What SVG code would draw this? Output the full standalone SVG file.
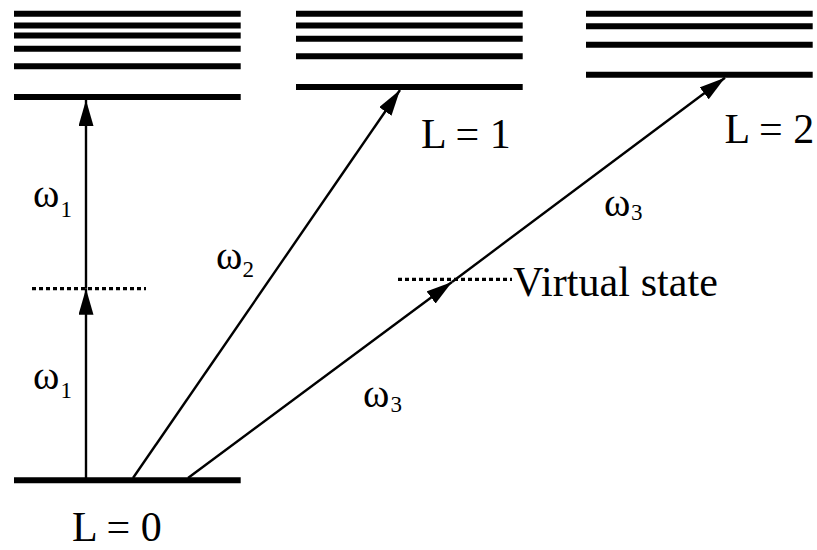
<svg xmlns="http://www.w3.org/2000/svg" width="817" height="550" viewBox="0 0 817 550">
<style>
.lvl{stroke:#000;stroke-width:6;fill:none}
.virt{stroke:#000;stroke-width:3.2;stroke-dasharray:4 3;fill:none}
.arr{stroke:#000;stroke-width:2.4;fill:none;marker-end:url(#ah)}
.lbl{font-family:"Liberation Serif","Times New Roman",serif;font-size:42px;fill:#000}
.om{font-family:"Liberation Serif","Times New Roman",serif;font-size:40px;fill:#000}
.sub{font-family:"Liberation Serif","Times New Roman",serif;font-size:23px;fill:#000}
</style>
<defs>
<marker id="ah" viewBox="0 0 26 15" refX="26" refY="7.5" markerWidth="26" markerHeight="15" markerUnits="userSpaceOnUse" orient="auto">
<path d="M0,0 L26,7.5 L0,15 z" fill="#000"/>
</marker>
</defs>
<rect width="817" height="550" fill="#fff"/>
<g id="levels-L0">
<line class="lvl" x1="14" y1="13.7" x2="240.7" y2="13.7"/>
<line class="lvl" x1="14" y1="25.5" x2="240.7" y2="25.5"/>
<line class="lvl" x1="14" y1="35.5" x2="240.7" y2="35.5"/>
<line class="lvl" x1="14" y1="48.7" x2="240.7" y2="48.7"/>
<line class="lvl" x1="14" y1="66.3" x2="240.7" y2="66.3"/>
<line class="lvl" x1="14" y1="97" x2="240.7" y2="97"/>
</g>
<g id="levels-L1">
<line class="lvl" x1="296" y1="13.7" x2="522.7" y2="13.7"/>
<line class="lvl" x1="296" y1="25.5" x2="522.7" y2="25.5"/>
<line class="lvl" x1="296" y1="38.7" x2="522.7" y2="38.7"/>
<line class="lvl" x1="296" y1="56.3" x2="522.7" y2="56.3"/>
<line class="lvl" x1="296" y1="87" x2="522.7" y2="87"/>
<text class="lbl" x="421" y="147.5">L = 1</text>
</g>
<g id="levels-L2">
<line class="lvl" x1="586" y1="13.7" x2="812.7" y2="13.7"/>
<line class="lvl" x1="586" y1="26.3" x2="812.7" y2="26.3"/>
<line class="lvl" x1="586" y1="44.7" x2="812.7" y2="44.7"/>
<line class="lvl" x1="586" y1="74.7" x2="812.7" y2="74.7"/>
<text class="lbl" x="724.5" y="143">L = 2</text>
</g>
<g id="ground-L0">
<line class="lvl" x1="14" y1="480.3" x2="240.7" y2="480.3"/>
<text class="lbl" x="72" y="541" font-size="41">L = 0</text>
</g>
<g id="virtual-1">
<line class="virt" x1="32" y1="288.7" x2="146" y2="288.7"/>
</g>
<g id="virtual-2">
<line class="virt" x1="398" y1="279.3" x2="512" y2="279.3"/>
<text class="lbl" x="513" y="296" textLength="205" lengthAdjust="spacing">Virtual state</text>
</g>
<g id="connectors">
<line class="arr" x1="86" y1="478" x2="86" y2="288.7"/>
<line class="arr" x1="86" y1="288.7" x2="86" y2="100"/>
<line class="arr" x1="133" y1="478" x2="400" y2="90"/>
<line class="arr" x1="188" y1="478" x2="452" y2="282"/>
<line class="arr" x1="452" y1="282" x2="725" y2="77.7"/>
</g>
<g id="labels">
<text class="om" x="33" y="207">ω</text><text class="sub" x="60.5" y="216.7">1</text>
<text class="om" x="33" y="389">ω</text><text class="sub" x="60.5" y="398.3">1</text>
<text class="om" x="216" y="269.3">ω</text><text class="sub" x="242.5" y="276.7">2</text>
<text class="om" x="363" y="407.3">ω</text><text class="sub" x="390.5" y="411.7">3</text>
<text class="om" x="604" y="215.7">ω</text><text class="sub" x="631" y="220">3</text>
</g>
</svg>
